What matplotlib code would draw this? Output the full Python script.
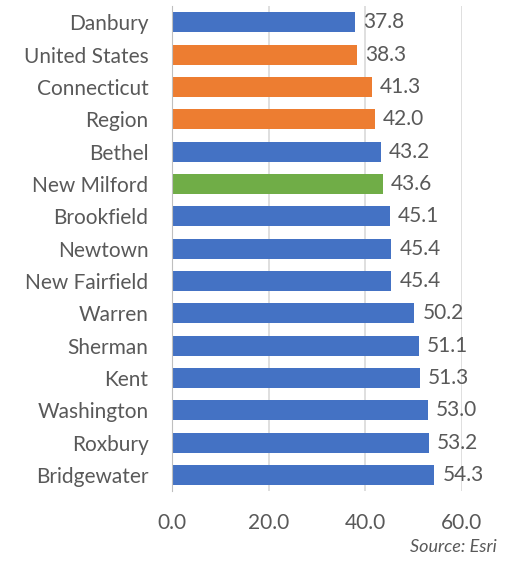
import matplotlib.pyplot as plt

places = ['Danbury', 'United States', 'Connecticut', 'Region', 'Bethel',
          'New Milford', 'Brookfield', 'Newtown', 'New Fairfield', 'Warren',
          'Sherman', 'Kent', 'Washington', 'Roxbury', 'Bridgewater']
median_age = [37.8, 38.3, 41.3, 42.0, 43.2, 43.6, 45.1, 45.4, 45.4, 50.2,
              51.1, 51.3, 53.0, 53.2, 54.3]
groups = ['town', 'ref', 'ref', 'ref', 'town', 'focus', 'town', 'town',
          'town', 'town', 'town', 'town', 'town', 'town', 'town']

palette = {'town': '#4472C4', 'ref': '#ED7D31', 'focus': '#70AD47'}
text_color = '#595959'

plt.rcParams['font.family'] = ['Lato', 'DejaVu Sans']

fig = plt.figure(figsize=(5.08, 5.62), dpi=100)
ax = fig.add_axes([0.339, 0.126, 0.57, 0.863])

y = range(len(places))
ax.barh(y, median_age, height=0.62,
        color=[palette[g] for g in groups], zorder=3)
for i, v in enumerate(median_age):
    ax.text(v + 1.7, i, f"{v:.1f}", ha='left', va='center',
            fontsize=15, color=text_color)

ax.set_xlim(0, 60)
ax.set_ylim(len(places) - 0.5, -0.5)
ax.set_xticks([0, 20, 40, 60])
ax.set_xticklabels([f"{t:.1f}" for t in [0, 20, 40, 60]])
ax.set_yticks(list(y))
ax.set_yticklabels(places)
ax.tick_params(axis='both', length=0, labelsize=15, colors=text_color)
ax.tick_params(axis='y', pad=17)
ax.tick_params(axis='x', pad=16)
ax.xaxis.grid(True, color='#D9D9D9', linewidth=1.2, zorder=0)
for side in ['top', 'right', 'bottom']:
    ax.spines[side].set_visible(False)
ax.spines['left'].set_color('#BFBFBF')
ax.spines['left'].set_zorder(4)

fig.text(0.978, 0.012, 'Source: Esri', ha='right', va='bottom',
         fontsize=13, style='italic', color=text_color)

fig.savefig('out.png', dpi=100)
